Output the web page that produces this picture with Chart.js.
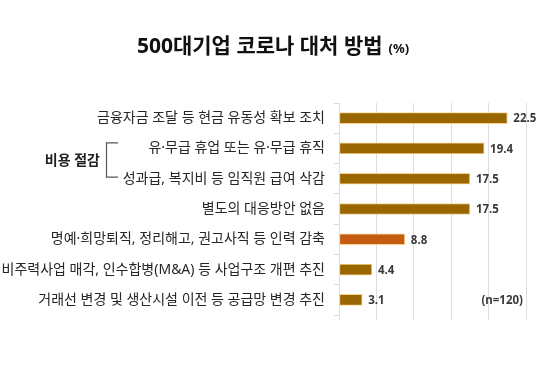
<!DOCTYPE html>
<html>
<head>
<meta charset="utf-8">
<script src="https://cdn.jsdelivr.net/npm/chart.js@4.4.0/dist/chart.umd.min.js"></script>
<style>
  html, body { margin: 0; padding: 0; background: #fff; }
  #wrap { width: 542px; height: 390px; }
</style>
</head>
<body>
<div id="wrap"><canvas id="cope-chart" width="542" height="390"></canvas></div>
<script>
var categories = [
  '금융자금 조달 등 현금 유동성 확보 조치',
  '유·무급 휴업 또는 유·무급 휴직',
  '성과급, 복지비 등 임직원 급여 삭감',
  '별도의 대응방안 없음',
  '명예·희망퇴직, 정리해고, 권고사직 등 인력 감축',
  '비주력사업 매각, 인수합병(M&A) 등 사업구조 개편 추진',
  '거래선 변경 및 생산시설 이전 등 공급망 변경 추진'
];
var values = [22.5, 19.4, 17.5, 17.5, 8.8, 4.4, 3.1];
var xTicks = [0, 5, 10, 15, 20, 25];
var titleText = '500대기업 코로나 대처 방법';
var unitText = '(%)';
var groupLabel = '비용 절감';
var sampleNote = '(n=120)';

var FONT = "'Noto Sans', 'Noto Sans CJK KR', sans-serif";
var highlight = 4;
var colors = values.map(function (v, i) { return i === highlight ? '#c55a11' : '#996600'; });

var extras = {
  id: 'extras',
  afterDatasetsDraw: function (chart) {
    var ctx = chart.ctx;
    var meta = chart.getDatasetMeta(0);
    var ys = chart.scales.y;
    var area = chart.chartArea;
    ctx.save();
    // value labels
    ctx.font = 'bold 11.5px ' + FONT;
    ctx.fillStyle = '#3a3a3a';
    ctx.textBaseline = 'middle';
    ctx.textAlign = 'left';
    meta.data.forEach(function (bar, i) {
      ctx.fillText(values[i].toFixed(1), bar.x + 6, bar.y + 1);
    });
    // n note
    ctx.textAlign = 'right';
    ctx.fillText(sampleNote, area.right - 3, ys.getPixelForValue(6) + 1);

    // title
    ctx.textBaseline = 'alphabetic';
    ctx.textAlign = 'left';
    ctx.fillStyle = '#111';
    ctx.font = 'bold 21px ' + FONT;
    var w1 = ctx.measureText(titleText).width;
    ctx.font = 'bold 13px ' + FONT;
    var w2 = ctx.measureText(unitText).width;
    var x0 = 273 - (w1 + 6 + w2) / 2;
    ctx.font = 'bold 21px ' + FONT;
    ctx.fillText(titleText, x0, 53);
    ctx.font = 'bold 13px ' + FONT;
    ctx.fillText(unitText, x0 + w1 + 6, 53);

    // group bracket
    var yTop = ys.getPixelForValue(1) - 6;
    var yBot = ys.getPixelForValue(2) - 2;
    ctx.strokeStyle = '#595959';
    ctx.lineWidth = 1.2;
    ctx.beginPath();
    ctx.moveTo(118, yTop + 0.5);
    ctx.lineTo(106.5, yTop + 0.5);
    ctx.lineTo(106.5, yBot + 0.5);
    ctx.lineTo(118, yBot + 0.5);
    ctx.stroke();
    ctx.font = 'bold 14px ' + FONT;
    ctx.fillStyle = '#1f1f1f';
    ctx.textAlign = 'right';
    ctx.textBaseline = 'middle';
    ctx.fillText(groupLabel, 100, (yTop + yBot) / 2 + 1);
    ctx.restore();
  }
};

new Chart(document.getElementById('cope-chart').getContext('2d'), {
  type: 'bar',
  data: {
    labels: categories,
    datasets: [{
      data: values,
      backgroundColor: colors,
      borderColor: '#f3d38d',
      borderWidth: 1,
      borderSkipped: false,
      barThickness: 11
    }]
  },
  options: {
    indexAxis: 'y',
    responsive: false,
    animation: false,
    layout: { padding: { top: 103, right: 16, left: 0, bottom: 0 } },
    plugins: {
      legend: { display: false },
      tooltip: { enabled: false }
    },
    scales: {
      x: {
        min: 0,
        max: 25,
        afterBuildTicks: function (scale) {
          scale.ticks = xTicks.map(function (v) { return { value: v }; });
        },
        afterFit: function (scale) { scale.height = 75; },
        ticks: { display: false },
        border: { display: false },
        grid: { color: '#dedede', lineWidth: 1, tickLength: 5 }
      },
      y: {
        afterFit: function (scale) { scale.width = 339; },
        border: { display: false },
        grid: { drawOnChartArea: false, color: '#d9d9d9', tickLength: 5, offset: true },
        ticks: {
          padding: 9,
          color: '#262626',
          font: { family: FONT, size: 14 }
        }
      }
    }
  },
  plugins: [extras]
});
</script>
</body>
</html>
